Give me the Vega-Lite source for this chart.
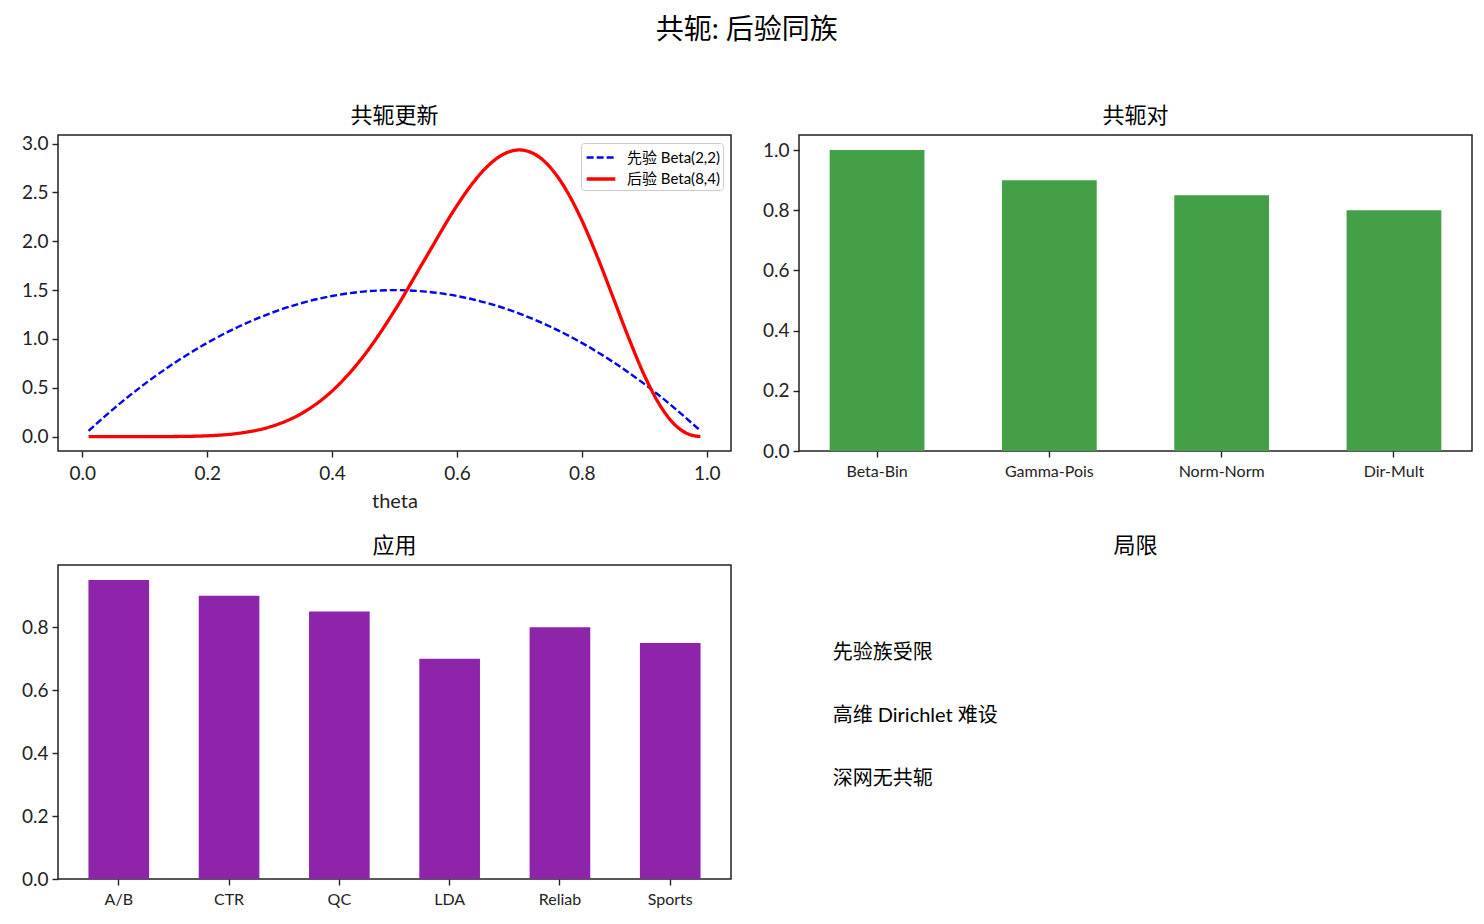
{
  "$schema": "https://vega.github.io/schema/vega-lite/v6.json",
  "title": {"text": "共轭: 后验同族", "fontSize": 28, "fontWeight": "normal", "anchor": "middle", "offset": 59},
  "padding": {"left": 20, "top": 16, "right": 10, "bottom": 5},
  "datasets": {
    "curves": [
      {"theta": 0.01, "series": "先验 Beta(2,2)", "pdf": 0.0594},
      {"theta": 0.05, "series": "先验 Beta(2,2)", "pdf": 0.285},
      {"theta": 0.10, "series": "先验 Beta(2,2)", "pdf": 0.54},
      {"theta": 0.15, "series": "先验 Beta(2,2)", "pdf": 0.765},
      {"theta": 0.20, "series": "先验 Beta(2,2)", "pdf": 0.96},
      {"theta": 0.25, "series": "先验 Beta(2,2)", "pdf": 1.125},
      {"theta": 0.30, "series": "先验 Beta(2,2)", "pdf": 1.26},
      {"theta": 0.35, "series": "先验 Beta(2,2)", "pdf": 1.365},
      {"theta": 0.40, "series": "先验 Beta(2,2)", "pdf": 1.44},
      {"theta": 0.45, "series": "先验 Beta(2,2)", "pdf": 1.485},
      {"theta": 0.50, "series": "先验 Beta(2,2)", "pdf": 1.5},
      {"theta": 0.55, "series": "先验 Beta(2,2)", "pdf": 1.485},
      {"theta": 0.60, "series": "先验 Beta(2,2)", "pdf": 1.44},
      {"theta": 0.65, "series": "先验 Beta(2,2)", "pdf": 1.365},
      {"theta": 0.70, "series": "先验 Beta(2,2)", "pdf": 1.26},
      {"theta": 0.75, "series": "先验 Beta(2,2)", "pdf": 1.125},
      {"theta": 0.80, "series": "先验 Beta(2,2)", "pdf": 0.96},
      {"theta": 0.85, "series": "先验 Beta(2,2)", "pdf": 0.765},
      {"theta": 0.90, "series": "先验 Beta(2,2)", "pdf": 0.54},
      {"theta": 0.95, "series": "先验 Beta(2,2)", "pdf": 0.285},
      {"theta": 0.99, "series": "先验 Beta(2,2)", "pdf": 0.0594},
      {"theta": 0.01, "series": "后验 Beta(8,4)", "pdf": 0},
      {"theta": 0.05, "series": "后验 Beta(8,4)", "pdf": 0},
      {"theta": 0.10, "series": "后验 Beta(8,4)", "pdf": 0.0001},
      {"theta": 0.15, "series": "后验 Beta(8,4)", "pdf": 0.0014},
      {"theta": 0.20, "series": "后验 Beta(8,4)", "pdf": 0.0087},
      {"theta": 0.25, "series": "后验 Beta(8,4)", "pdf": 0.034},
      {"theta": 0.30, "series": "后验 Beta(8,4)", "pdf": 0.099},
      {"theta": 0.35, "series": "后验 Beta(8,4)", "pdf": 0.233},
      {"theta": 0.40, "series": "后验 Beta(8,4)", "pdf": 0.467},
      {"theta": 0.45, "series": "后验 Beta(8,4)", "pdf": 0.821},
      {"theta": 0.50, "series": "后验 Beta(8,4)", "pdf": 1.289},
      {"theta": 0.55, "series": "后验 Beta(8,4)", "pdf": 1.831},
      {"theta": 0.60, "series": "后验 Beta(8,4)", "pdf": 2.365},
      {"theta": 0.625, "series": "后验 Beta(8,4)", "pdf": 2.593},
      {"theta": 0.65, "series": "后验 Beta(8,4)", "pdf": 2.774},
      {"theta": 0.675, "series": "后验 Beta(8,4)", "pdf": 2.893},
      {"theta": 0.70, "series": "后验 Beta(8,4)", "pdf": 2.935},
      {"theta": 0.725, "series": "后验 Beta(8,4)", "pdf": 2.890},
      {"theta": 0.75, "series": "后验 Beta(8,4)", "pdf": 2.753},
      {"theta": 0.775, "series": "后验 Beta(8,4)", "pdf": 2.525},
      {"theta": 0.80, "series": "后验 Beta(8,4)", "pdf": 2.215},
      {"theta": 0.825, "series": "后验 Beta(8,4)", "pdf": 1.840},
      {"theta": 0.85, "series": "后验 Beta(8,4)", "pdf": 1.428},
      {"theta": 0.875, "series": "后验 Beta(8,4)", "pdf": 1.012},
      {"theta": 0.90, "series": "后验 Beta(8,4)", "pdf": 0.631},
      {"theta": 0.925, "series": "后验 Beta(8,4)", "pdf": 0.323},
      {"theta": 0.95, "series": "后验 Beta(8,4)", "pdf": 0.115},
      {"theta": 0.975, "series": "后验 Beta(8,4)", "pdf": 0.017},
      {"theta": 0.99, "series": "后验 Beta(8,4)", "pdf": 0.0012}
    ],
    "pairs": [
      {"pair": "Beta-Bin", "score": 1.0},
      {"pair": "Gamma-Pois", "score": 0.9},
      {"pair": "Norm-Norm", "score": 0.85},
      {"pair": "Dir-Mult", "score": 0.8}
    ],
    "apps": [
      {"app": "A/B", "score": 0.95},
      {"app": "CTR", "score": 0.9},
      {"app": "QC", "score": 0.85},
      {"app": "LDA", "score": 0.7},
      {"app": "Reliab", "score": 0.8},
      {"app": "Sports", "score": 0.75}
    ],
    "limits": [
      {"x": 0.05, "y": 0.7, "label": "先验族受限"},
      {"x": 0.05, "y": 0.5, "label": "高维 Dirichlet 难设"},
      {"x": 0.05, "y": 0.3, "label": "深网无共轭"}
    ]
  },
  "columns": 2,
  "spacing": {"column": 29, "row": 22},
  "resolve": {"legend": {"color": "independent", "strokeDash": "independent", "strokeWidth": "independent"}},
  "concat": [
    {
      "title": "共轭更新",
      "width": 673,
      "height": 316,
      "data": {"name": "curves"},
      "mark": {"type": "line", "interpolate": "monotone", "clip": true},
      "encoding": {
        "x": {"field": "theta", "type": "quantitative", "title": "theta",
              "scale": {"domain": [-0.039, 1.039], "nice": false, "zero": false},
              "axis": {"values": [0, 0.2, 0.4, 0.6, 0.8, 1.0], "format": ".1f", "labelPadding": 7, "titlePadding": 8}},
        "y": {"field": "pdf", "type": "quantitative", "title": null,
              "scale": {"domain": [-0.147, 3.088], "nice": false, "zero": false},
              "axis": {"values": [0, 0.5, 1, 1.5, 2, 2.5, 3], "format": ".1f"}},
        "color": {"field": "series", "type": "nominal",
                  "scale": {"domain": ["先验 Beta(2,2)", "后验 Beta(8,4)"], "range": ["#0000ff", "#ff0000"]},
                  "legend": {"title": null, "orient": "top-right", "offset": 8, "fillColor": "white",
                             "strokeColor": "#cccccc", "padding": 3, "cornerRadius": 3,
                             "symbolType": "M-1.4,0H1.4", "symbolSize": 420, "symbolStrokeWidth": 2.6,
                             "symbolFillColor": "transparent", "symbolOffset": 5,
                             "labelFontSize": 15, "rowPadding": 1, "labelOffset": 14}},
        "strokeDash": {"field": "series", "type": "nominal",
                       "scale": {"domain": ["先验 Beta(2,2)", "后验 Beta(8,4)"], "range": [[7, 3], [1, 0]]},
                       "legend": {"title": null}},
        "strokeWidth": {"field": "series", "type": "nominal",
                        "scale": {"domain": ["先验 Beta(2,2)", "后验 Beta(8,4)"], "range": [2.4, 3.3]},
                        "legend": null}
      }
    },
    {
      "title": "共轭对",
      "width": 673,
      "height": 316,
      "data": {"name": "pairs"},
      "mark": {"type": "bar", "color": "#43a047"},
      "encoding": {
        "x": {"field": "pair", "type": "nominal", "sort": null, "title": null,
              "scale": {"paddingInner": 0.45, "paddingOuter": 0.178},
              "axis": {"labelAngle": 0, "labelFontSize": 16, "labelPadding": 6}},
        "y": {"field": "score", "type": "quantitative", "title": null,
              "scale": {"domain": [0, 1.05], "nice": false},
              "axis": {"values": [0, 0.2, 0.4, 0.6, 0.8, 1.0], "format": ".1f"}}
      }
    },
    {
      "title": "应用",
      "width": 673,
      "height": 314,
      "data": {"name": "apps"},
      "mark": {"type": "bar", "color": "#8e24aa"},
      "encoding": {
        "x": {"field": "app", "type": "nominal", "sort": null, "title": null,
              "scale": {"paddingInner": 0.45, "paddingOuter": 0.276},
              "axis": {"labelAngle": 0, "labelFontSize": 16, "labelPadding": 6}},
        "y": {"field": "score", "type": "quantitative", "title": null,
              "scale": {"domain": [0, 0.9975], "nice": false},
              "axis": {"values": [0, 0.2, 0.4, 0.6, 0.8], "format": ".1f"}}
      }
    },
    {
      "title": "局限",
      "width": 673,
      "height": 314,
      "view": {"stroke": null},
      "data": {"name": "limits"},
      "mark": {"type": "text", "align": "left", "baseline": "alphabetic", "fontSize": 20},
      "encoding": {
        "x": {"field": "x", "type": "quantitative", "scale": {"domain": [0, 1]}, "axis": null},
        "y": {"field": "y", "type": "quantitative", "scale": {"domain": [0, 1]}, "axis": null},
        "text": {"field": "label"}
      }
    }
  ],
  "config": {
    "font": "Lato, 'Noto Sans CJK SC', sans-serif",
    "view": {"stroke": "#222222", "strokeWidth": 1.5},
    "title": {"fontSize": 22, "fontWeight": "normal", "color": "#000000", "offset": 7},
    "axis": {"grid": false, "domain": false, "tickColor": "#222222", "tickSize": 6, "tickWidth": 1.4,
             "labelFontSize": 19, "labelColor": "#222222", "titleFontSize": 20, "titleFontWeight": "normal",
             "titleColor": "#222222", "labelPadding": 4, "titlePadding": 4},
    "legend": {"labelFont": "Lato, 'Noto Sans CJK SC', sans-serif"}
  }
}
